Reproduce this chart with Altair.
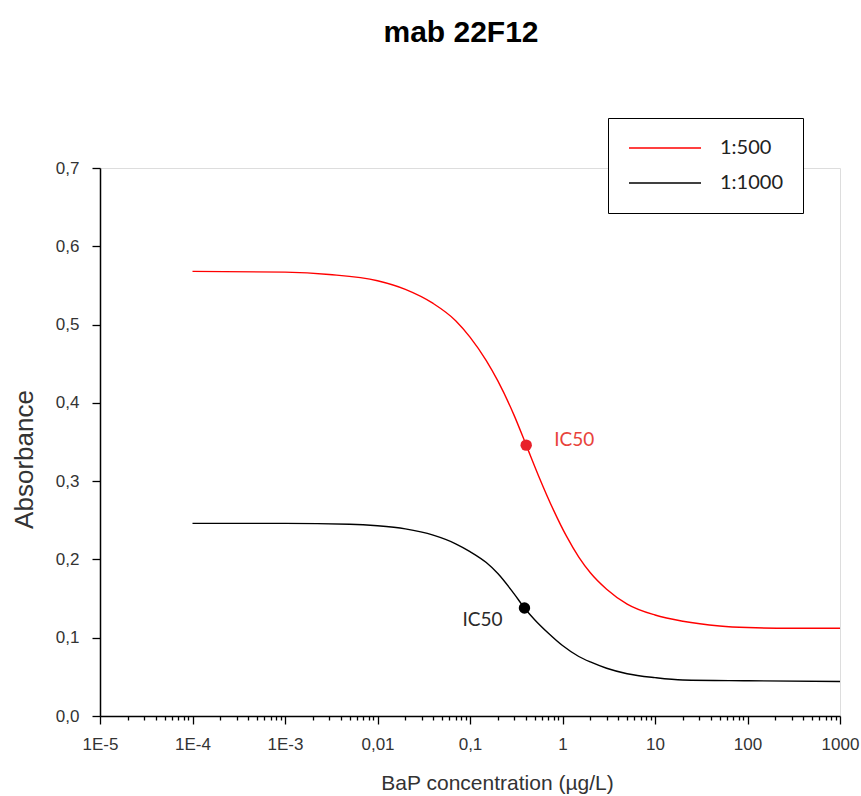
import altair as alt
import pandas as pd

# ---------------- data ----------------
title_text = "mab 22F12"
series_names = ["1:500", "1:1000"]

conc_500 = [1e-4, 1e-3, 3e-3, 0.01, 0.02, 0.04, 0.07, 0.1, 0.15, 0.2, 0.3, 0.405,
            0.55, 0.8, 1.1, 1.5, 2, 3, 5, 10, 20, 50, 100, 300, 1000]
abs_500 = [0.568, 0.567, 0.564, 0.556, 0.545, 0.527, 0.505, 0.484, 0.454, 0.428, 0.384, 0.346,
           0.307, 0.263, 0.230, 0.203, 0.183, 0.162, 0.143, 0.129, 0.121, 0.115, 0.113, 0.112, 0.112]

conc_1000 = [1e-4, 1e-3, 5e-3, 0.01, 0.02, 0.04, 0.07, 0.1, 0.15, 0.2, 0.3, 0.388,
             0.5, 0.7, 1.0, 1.5, 2, 3, 5, 10, 20, 100, 1000]
abs_1000 = [0.246, 0.246, 0.245, 0.243, 0.239, 0.231, 0.220, 0.210, 0.196, 0.182, 0.156, 0.138,
            0.123, 0.106, 0.090, 0.076, 0.069, 0.061, 0.054, 0.049, 0.046, 0.045, 0.044]

ic50_conc = [0.405, 0.388]
ic50_abs = [0.346, 0.138]
ic50_label = "IC50"

x_tick_values = [1e-5, 1e-4, 1e-3, 0.01, 0.1, 1, 10, 100, 1000]
x_tick_labels = ["1E-5", "1E-4", "1E-3", "0,01", "0,1", "1", "10", "100", "1000"]
y_tick_values = [0.0, 0.1, 0.2, 0.3, 0.4, 0.5, 0.6, 0.7]
y_tick_labels = ["0,0", "0,1", "0,2", "0,3", "0,4", "0,5", "0,6", "0,7"]
x_title = "BaP concentration (µg/L)"
y_title = "Absorbance"

# ---------------- tables ----------------
df_lines = pd.concat([
    pd.DataFrame({"conc": conc_500, "abs": abs_500, "series": series_names[0]}),
    pd.DataFrame({"conc": conc_1000, "abs": abs_1000, "series": series_names[1]}),
])
df_ic50 = pd.DataFrame({"conc": ic50_conc, "abs": ic50_abs,
                        "series": series_names, "label": ic50_label})

# minor tick positions (2..9 within each decade, and halfway on y)
x_minor = [m * d for d in x_tick_values[:-1] for m in range(2, 10)]
y_minor = [round(v + 0.05, 2) for v in y_tick_values[:-1]]


def x_label_expr():
    parts = [f"abs(datum.value/{v!r}-1)<1e-6 ? '{lab}'" for v, lab in zip(x_tick_values, x_tick_labels)]
    return " : ".join(parts) + " : ''"


def y_label_expr():
    parts = [f"abs(datum.value-{v!r})<1e-6 ? '{lab}'" for v, lab in zip(y_tick_values, y_tick_labels)]
    return " : ".join(parts) + " : ''"


x_major_test = " || ".join(f"abs(datum.value/{v!r}-1)<1e-6" for v in x_tick_values)
y_major_test = " || ".join(f"abs(datum.value-{v!r})<1e-6" for v in y_tick_values)

AX_FONT = "Liberation Sans"

x_scale = alt.Scale(type="log", domain=[x_tick_values[0], x_tick_values[-1]], nice=False)
y_scale = alt.Scale(domain=[y_tick_values[0], y_tick_values[-1]], nice=False, zero=True)

x_axis = alt.Axis(
    values=sorted(x_tick_values + x_minor),
    labelExpr=x_label_expr(),
    tickSize={"condition": {"test": x_major_test, "value": 8}, "value": 4},
    tickColor="black", tickWidth=1.3, domainColor="black", domainWidth=1.5,
    labelFont=AX_FONT, labelFontSize=17, labelColor="#333333", labelPadding=12,
    labelFlush=False, labelOverlap=False, grid=False,
    title=x_title, titleFont=AX_FONT, titleFontSize=21, titleFontWeight="normal",
    titleColor="#333333", titleX=397, titleY=67, titleAlign="center", titleBaseline="middle",
)
y_axis = alt.Axis(
    values=sorted(y_tick_values + y_minor),
    labelExpr=y_label_expr(),
    tickSize={"condition": {"test": y_major_test, "value": 8}, "value": 4},
    tickColor="black", tickWidth=1.3, domainColor="black", domainWidth=1.5,
    labelFont=AX_FONT, labelFontSize=17, labelColor="#333333", labelPadding=13,
    labelFlush=False, labelOverlap=False, grid=False,
    title=y_title, titleFont=AX_FONT, titleFontSize=26, titleFontWeight="normal",
    titleColor="#333333", titleX=-76, titleY=291, titleAlign="center", titleBaseline="middle",
    titleAngle=270,
)

legend = alt.Legend(
    title=None, orient="none", legendX=508, legendY=-50, direction="vertical",
    symbolType="stroke", symbolSize=5184, symbolStrokeWidth=1.5,
    labelFont="Lato", labelFontSize=20, labelColor="#222222", labelOffset=18,
    strokeColor="black", fillColor="white", padding=20, rowPadding=15, clipHeight=20,
)

base = alt.Chart(df_lines)
lines = base.mark_line(strokeWidth=1.4, interpolate="monotone").encode(
    x=alt.X("conc:Q", scale=x_scale, axis=x_axis),
    y=alt.Y("abs:Q", scale=y_scale, axis=y_axis),
    color=alt.Color("series:N", scale=alt.Scale(domain=series_names, range=["#ff0000", "#000000"]),
                    legend=legend),
)

pts_base = alt.Chart(df_ic50).encode(x=alt.X("conc:Q"), y=alt.Y("abs:Q"))
pt_red = pts_base.transform_filter(alt.datum.series == series_names[0]).mark_circle(
    size=130, opacity=1, color="#e8202a")
pt_black = pts_base.transform_filter(alt.datum.series == series_names[1]).mark_circle(
    size=130, opacity=1, color="#000000")
txt_red = pts_base.transform_filter(alt.datum.series == series_names[0]).mark_text(
    align="left", baseline="middle", dx=28, dy=-5, font="Lato", fontSize=19, color="#e8433a"
).encode(text="label:N")
txt_black = pts_base.transform_filter(alt.datum.series == series_names[1]).mark_text(
    align="right", baseline="middle", dx=-22, dy=12, font="Lato", fontSize=19, color="#2a2a2a"
).encode(text="label:N")

chart = alt.layer(lines, pt_red, pt_black, txt_red, txt_black).properties(
    width=740, height=548,
    autosize=alt.AutoSizeParams(type="none"),
    padding={"left": 100, "top": 168, "right": 21, "bottom": 80},
    title=alt.TitleParams(text=title_text, font=AX_FONT, fontSize=30, fontWeight="bold",
                          color="black", anchor="middle", frame="group", offset=46,
                          baseline="alphabetic", dx=-9),
).configure_view(stroke="transparent", strokeWidth=0).configure(background="white")

chart.save("out.html", embed_options={"renderer": "svg", "actions": False})
